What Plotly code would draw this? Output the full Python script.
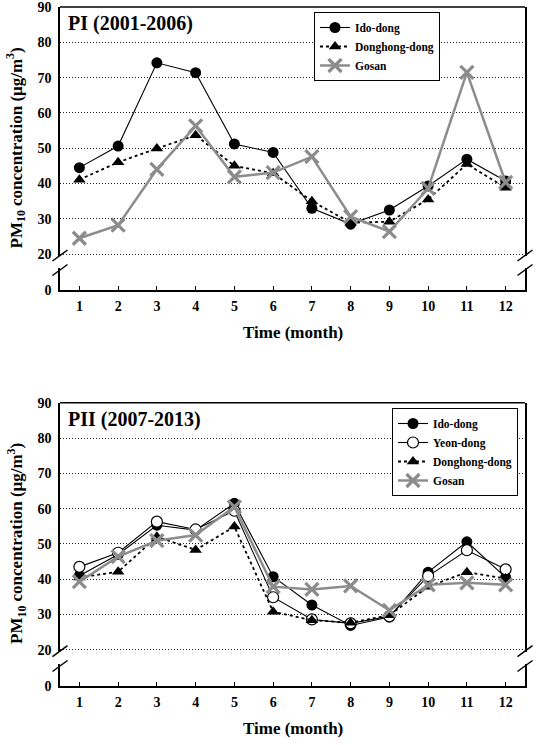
import plotly.graph_objects as go

# ---------------- data ----------------
months = [1, 2, 3, 4, 5, 6, 7, 8, 9, 10, 11, 12]
month_labels = [str(m) for m in months]
y_ticks_upper = [20, 30, 40, 50, 60, 70, 80, 90]
y_ticks_lower = [0]

pi_ido = [44.5, 50.6, 74.2, 71.4, 51.2, 48.8, 33.0, 28.5, 32.5, 39.3, 46.9, 40.7]
pi_donghong = [41.1, 46.0, 49.9, 53.7, 45.0, 42.9, 35.0, 28.9, 29.2, 35.5, 45.5, 38.8]
pi_gosan = [24.5, 28.2, 44.0, 56.3, 41.9, 43.1, 47.6, 30.6, 26.4, 38.6, 71.5, 40.3]

pii_ido = [41.0, 47.0, 55.3, 53.9, 61.5, 40.7, 32.7, 26.9, 29.3, 42.0, 50.6, 40.5]
pii_yeon = [43.5, 47.5, 56.3, 54.1, 59.4, 34.9, 28.6, 27.5, 29.5, 40.9, 48.2, 42.8]
pii_donghong = [40.5, 42.1, 52.0, 48.3, 54.9, 30.8, 28.4, 27.7, 29.8, 37.9, 42.0, 40.2]
pii_gosan = [39.3, 46.4, 50.9, 52.5, 60.5, 37.9, 37.1, 38.1, 31.2, 38.4, 39.0, 38.4]

# ---------------- layout helpers ----------------
W, H = 540, 745
FONT = "Liberation Serif"
GREY = "#8c8c8c"


def px(x):
    return x / W


def py(y):
    return 1 - y / H


fig = go.Figure()

# style definitions
st_ido = dict(mode="lines+markers", line=dict(color="black", width=1.1),
              marker=dict(symbol="circle", size=11, color="black"))
st_yeon = dict(mode="lines+markers", line=dict(color="black", width=1.1),
               marker=dict(symbol="circle", size=11, color="white",
                           line=dict(color="black", width=1.2)))
st_dong = dict(mode="lines+markers", line=dict(color="black", width=1.8, dash="dot"),
               marker=dict(symbol="triangle-up", size=11, color="black"))
st_gosan = dict(mode="lines+markers", line=dict(color=GREY, width=2.5),
                marker=dict(symbol="x-thin", size=13, color=GREY,
                            line=dict(color=GREY, width=3.2)))

# top panel traces
fig.add_trace(go.Scatter(x=months, y=pi_ido, name="Ido-dong", xaxis="x", yaxis="y",
                         legend="legend", **st_ido))
fig.add_trace(go.Scatter(x=months, y=pi_donghong, name="Donghong-dong", xaxis="x", yaxis="y",
                         legend="legend", **st_dong))
fig.add_trace(go.Scatter(x=months, y=pi_gosan, name="Gosan", xaxis="x", yaxis="y",
                         legend="legend", **st_gosan))

# bottom panel traces
fig.add_trace(go.Scatter(x=months, y=pii_ido, name="Ido-dong", xaxis="x2", yaxis="y3",
                         legend="legend2", **st_ido))
fig.add_trace(go.Scatter(x=months, y=pii_yeon, name="Yeon-dong", xaxis="x2", yaxis="y3",
                         legend="legend2", **st_yeon))
fig.add_trace(go.Scatter(x=months, y=pii_donghong, name="Donghong-dong", xaxis="x2", yaxis="y3",
                         legend="legend2", **st_dong))
fig.add_trace(go.Scatter(x=months, y=pii_gosan, name="Gosan", xaxis="x2", yaxis="y3",
                         legend="legend2", **st_gosan))

# empty traces so that the lower (broken) axis segments get their own subplots
for xa, ya in (("x", "y2"), ("x2", "y4")):
    fig.add_trace(go.Scatter(x=[], y=[], xaxis=xa, yaxis=ya, showlegend=False,
                             hoverinfo="skip", mode="lines"))

tickfont = dict(family=FONT, size=14, color="black", weight="bold")
xdom = [px(60), px(525)]
lower_span = 22 / 3.53

common_x = dict(domain=xdom, range=[0.5, 12.5], tickvals=months, ticktext=month_labels,
                ticks="inside", ticklen=4, tickwidth=1.2, tickcolor="black",
                showline=True, linecolor="black", linewidth=1.5, showgrid=False,
                zeroline=False, tickfont=tickfont, automargin=False, fixedrange=True,
                ticklabelstandoff=2)
common_yu = dict(range=[19.5, 90], tickvals=y_ticks_upper, showline=True, mirror=True,
                 linecolor="black", linewidth=1.5, showgrid=True, gridcolor="#222222",
                 gridwidth=1, griddash="1px,2px", zeroline=False, ticks="",
                 tickfont=tickfont, automargin=False, ticklabelstandoff=4,
                 ticklabeloverflow="allow")
common_yl = dict(range=[0, lower_span], tickvals=y_ticks_lower, showline=True, mirror=True,
                 linecolor="black", linewidth=1.5, showgrid=False, zeroline=False, ticks="",
                 tickfont=tickfont, automargin=False, ticklabelstandoff=4,
                 ticklabeloverflow="allow")

legend_common = dict(font=dict(family=FONT, size=11.5, color="black", weight="bold"),
                     bordercolor="black", borderwidth=1, bgcolor="white",
                     xanchor="left", yanchor="top", tracegroupgap=0, itemwidth=30)

fig.update_layout(
    width=W, height=H,
    margin=dict(l=0, r=0, t=0, b=0),
    paper_bgcolor="white", plot_bgcolor="white",
    font=dict(family=FONT, color="black"),
    showlegend=True,
    xaxis=dict(anchor="y2", **common_x),
    yaxis=dict(anchor="x", domain=[py(255.9), py(7)], **common_yu),
    yaxis2=dict(anchor="x", domain=[py(290), py(268)], **common_yl),
    xaxis2=dict(anchor="y4", **common_x),
    yaxis3=dict(anchor="x2", domain=[py(651.6), py(402.7)], **common_yu),
    yaxis4=dict(anchor="x2", domain=[py(686), py(664)], **common_yl),
    legend=dict(x=px(314), y=py(12), **legend_common),
    legend2=dict(x=px(392), y=py(408), **legend_common),
)

# top frame lines
for xr, yr in (("x", "y"), ("x2", "y3")):
    fig.add_shape(type="line", xref=f"{xr} domain", yref=f"{yr} domain",
                  x0=0, x1=1, y0=1, y1=1, line=dict(color="black", width=1.5))


# axis-break slashes
def slashes(top_end, bot_start):
    for xc in (60, 525):
        for yc in (top_end, bot_start):
            fig.add_shape(type="line", xref="paper", yref="paper",
                          x0=px(xc - 7.5), y0=py(yc + 5.5), x1=px(xc + 7.5), y1=py(yc - 5.5),
                          line=dict(color="black", width=1.5))


slashes(255.5, 270)
slashes(651.2, 666)

# texts
ytitle = "PM<sub>10</sub> concentration (μg/m<sup>3</sup>)"
for yc in (148.5, 544):
    fig.add_annotation(text=ytitle, xref="paper", yref="paper", x=px(16), y=py(yc),
                       textangle=-90, showarrow=False, xanchor="center", yanchor="middle",
                       font=dict(family=FONT, size=17, color="black", weight="bold"))
for yc in (333, 728.5):
    fig.add_annotation(text="Time (month)", xref="paper", yref="paper", x=px(292.5), y=py(yc),
                       showarrow=False, xanchor="center", yanchor="middle",
                       font=dict(family=FONT, size=17, color="black", weight="bold"))
for txt, yc in (("PI (2001-2006)", 23), ("PII (2007-2013)", 419)):
    fig.add_annotation(text=txt, xref="paper", yref="paper", x=px(66), y=py(yc),
                       showarrow=False, xanchor="left", yanchor="middle",
                       font=dict(family=FONT, size=20, color="black", weight="bold"))

fig.write_html("out.html")
